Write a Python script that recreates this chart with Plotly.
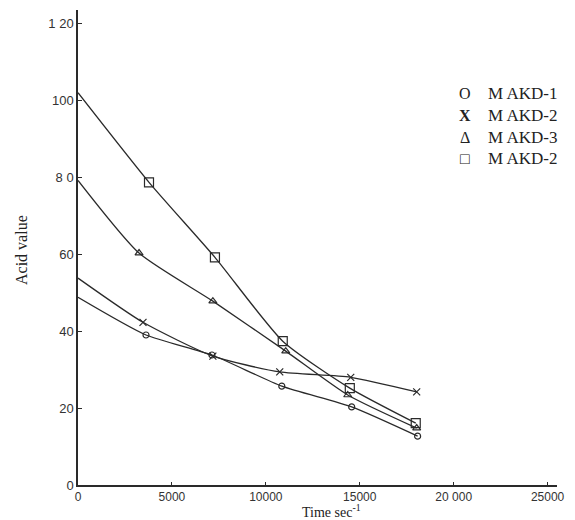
import plotly.graph_objects as go

# Data
time_akd1 = [0, 3620, 7130, 10850, 14570, 18080]
acid_akd1 = [48.8, 39.0, 33.8, 25.7, 20.3, 12.7]

time_akd2 = [0, 3460, 7180, 10740, 14520, 18030]
acid_akd2 = [53.8, 42.3, 33.5, 29.4, 28.0, 24.2]

time_akd3 = [0, 3250, 7180, 11060, 14360, 18030]
acid_akd3 = [79.2, 60.3, 47.8, 34.8, 23.4, 14.8]

time_akd4 = [0, 3780, 7290, 10900, 14470, 17980]
acid_akd4 = [102.0, 78.7, 59.2, 37.4, 25.2, 16.1]

series_names = ["M AKD-1", "M AKD-2", "M AKD-3", "M AKD-2"]
legend_glyphs = ["O", "<b>X</b>", "Δ", "□"]
x_tickvals = [0, 5000, 10000, 15000, 20000, 25000]
x_ticktext = ["0", "5000", "10000", "15000", "20 000", "25000"]
y_tickvals = [0, 20, 40, 60, 80, 100, 120]
y_ticktext = ["0", "20", "40", "60", "8 0", "100", "1 20"]

series = [
    (time_akd1, acid_akd1, "circle-open", 6),
    (time_akd2, acid_akd2, "x-thin-open", 7),
    (time_akd3, acid_akd3, "triangle-up-open", 7),
    (time_akd4, acid_akd4, "square-open", 9),
]

ink = "#2a2a2a"
fig = go.Figure()
for (xs, ys, sym, sz), name in zip(series, series_names):
    fig.add_trace(go.Scatter(
        x=xs, y=ys, mode="lines", line=dict(color=ink, width=1.3, shape="spline", smoothing=0.6),
        showlegend=False, hoverinfo="skip"))
    fig.add_trace(go.Scatter(
        x=xs[1:], y=ys[1:], mode="markers", name=name, showlegend=False,
        marker=dict(symbol=sym, size=sz, color=ink, line=dict(width=1.2, color=ink))))

# page offset (the html body has an 8px margin)
off = 8
plot_left, plot_width = 78, 479
plot_bottom, plot_height = 485, 475
serif = "Liberation Serif"


def px_x(px):
    return (px - plot_left) / plot_width


def px_y(py):
    return (plot_bottom - py) / plot_height


# Legend drawn as text, like the reference
legend_rows_px = [93, 115, 137, 158]
for glyph, name, ypx in zip(legend_glyphs, series_names, legend_rows_px):
    fig.add_annotation(x=px_x(465), y=px_y(ypx), xref="paper", yref="paper",
                       text=glyph, showarrow=False, xanchor="center", yanchor="middle",
                       font=dict(family=serif, size=16, color="#222"))
    fig.add_annotation(x=px_x(486), y=px_y(ypx), xref="paper", yref="paper",
                       text=name, showarrow=False, xanchor="left", yanchor="middle",
                       font=dict(family=serif, size=17, color="#222"))

# axis titles as annotations
fig.add_annotation(x=px_x(331), y=px_y(511), xref="paper", yref="paper",
                   text="Time sec<sup>-1</sup>", showarrow=False,
                   xanchor="center", yanchor="middle",
                   font=dict(family=serif, size=14, color="#222"))
fig.add_annotation(x=px_x(21), y=px_y(250), xref="paper", yref="paper",
                   text="Acid value", showarrow=False, textangle=-90,
                   xanchor="center", yanchor="middle",
                   font=dict(family=serif, size=16, color="#222"))

fig_w, fig_h = 575 - off, 520 - off
fig.update_layout(
    width=fig_w, height=fig_h,
    margin=dict(l=plot_left - off, r=fig_w - (plot_left - off) - plot_width,
                t=plot_bottom - plot_height - off, b=fig_h - (plot_bottom - off)),
    paper_bgcolor="white", plot_bgcolor="white",
    font=dict(family="Liberation Sans", size=13, color="#333"),
    showlegend=False,
    xaxis=dict(range=[0, 25500], tickvals=x_tickvals, ticktext=x_ticktext, automargin=False,
               showgrid=False, zeroline=False, showline=True, linecolor=ink, linewidth=1.5,
               ticks="inside", ticklen=3, tickcolor=ink, ticklabelstandoff=0,
               tickfont=dict(size=12)),
    yaxis=dict(range=[0, 123.5], tickvals=y_tickvals, ticktext=y_ticktext, automargin=False,
               showgrid=False, zeroline=False, showline=True, linecolor=ink, linewidth=1.5,
               ticks="inside", ticklen=4, tickcolor=ink, ticklabelstandoff=0),
)

fig.write_html("out.html")
